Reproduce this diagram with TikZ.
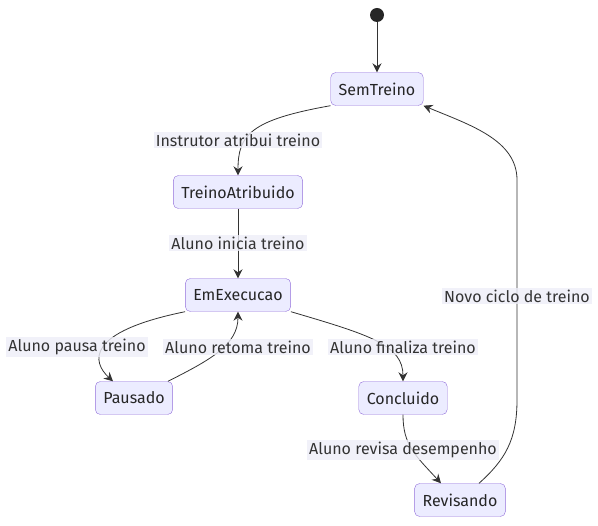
\documentclass[tikz,border=0pt]{standalone}
\usepackage{fontspec}
\setmainfont{Fira Sans}
\usetikzlibrary{arrows.meta}
\definecolor{stfill}{HTML}{ECECFF}
\definecolor{stline}{HTML}{9370DB}
\definecolor{edgeclr}{HTML}{333333}
\definecolor{lblbg}{HTML}{EEEEF8}
\begin{document}
\begin{tikzpicture}[x=1pt,y=-1pt,>={Stealth[length=9pt,width=9pt,inset=3pt]},
  state/.style={draw=stline,fill=stfill,rounded corners=5pt,minimum height=33pt,inner xsep=8pt,font=\fontsize{16}{19}\selectfont,text=black!85},
  lbl/.style={fill=lblbg,fill opacity=0.8,text opacity=1,inner sep=2pt,font=\fontsize{16}{19}\selectfont,text=edgeclr},
  tr/.style={->,draw=edgeclr,line width=0.8pt}]
  \useasboundingbox (0,0) rectangle (598,526);
  % states
  \node[circle,fill=black!85,minimum size=14pt,inner sep=0pt] (start) at (377,15) {};
  \node[state] (semTreino) at (377,89) {SemTreino};
  \node[state] (treinoAtr) at (238,192) {TreinoAtribuido};
  \node[state] (emExec) at (238,295) {EmExecucao};
  \node[state] (pausado) at (134,398) {Pausado};
  \node[state] (concluido) at (403,398) {Concluido};
  \node[state] (revisando) at (460,500) {Revisando};
  % transitions
  \draw[tr] (start) -- (semTreino);
  \draw[tr] (semTreino.south west) .. controls (250,120) and (238,135) .. (treinoAtr.north);
  \draw[tr] (treinoAtr) -- (emExec);
  \draw[tr] (emExec.south west) .. controls (85,332) and (92,362) .. ([xshift=-21pt]pausado.north);
  \draw[tr] ([xshift=34pt]pausado.north) .. controls (210,360) and (238,345) .. (emExec.south);
  \draw[tr] (emExec.south east) .. controls (370,335) and (403,345) .. (concluido.north);
  \draw[tr] (concluido.south) .. controls (403,445) and (415,455) .. ([xshift=-19pt]revisando.north);
  \draw[tr] ([xshift=19pt]revisando.north) .. controls (505,460) and (517,440) .. (517,400) -- (517,180)
    .. controls (517,140) and (470,125) .. (semTreino.south east);
  % labels
  \node[lbl] (lAtribui) at (238,140) {Instrutor atribui treino};
  \node[lbl] (lInicia) at (238,243) {Aluno inicia treino};
  \node[lbl] (lPausa) at (77,347) {Aluno pausa treino};
  \node[lbl] (lRetoma) at (238,347) {Aluno retoma treino};
  \node[lbl] (lFinaliza) at (403,347) {Aluno finaliza treino};
  \node[lbl] (lRevisa) at (403,450) {Aluno revisa desempenho};
  \node[lbl] (lCiclo) at (517,296) {Novo ciclo de treino};
\end{tikzpicture}
\end{document}
